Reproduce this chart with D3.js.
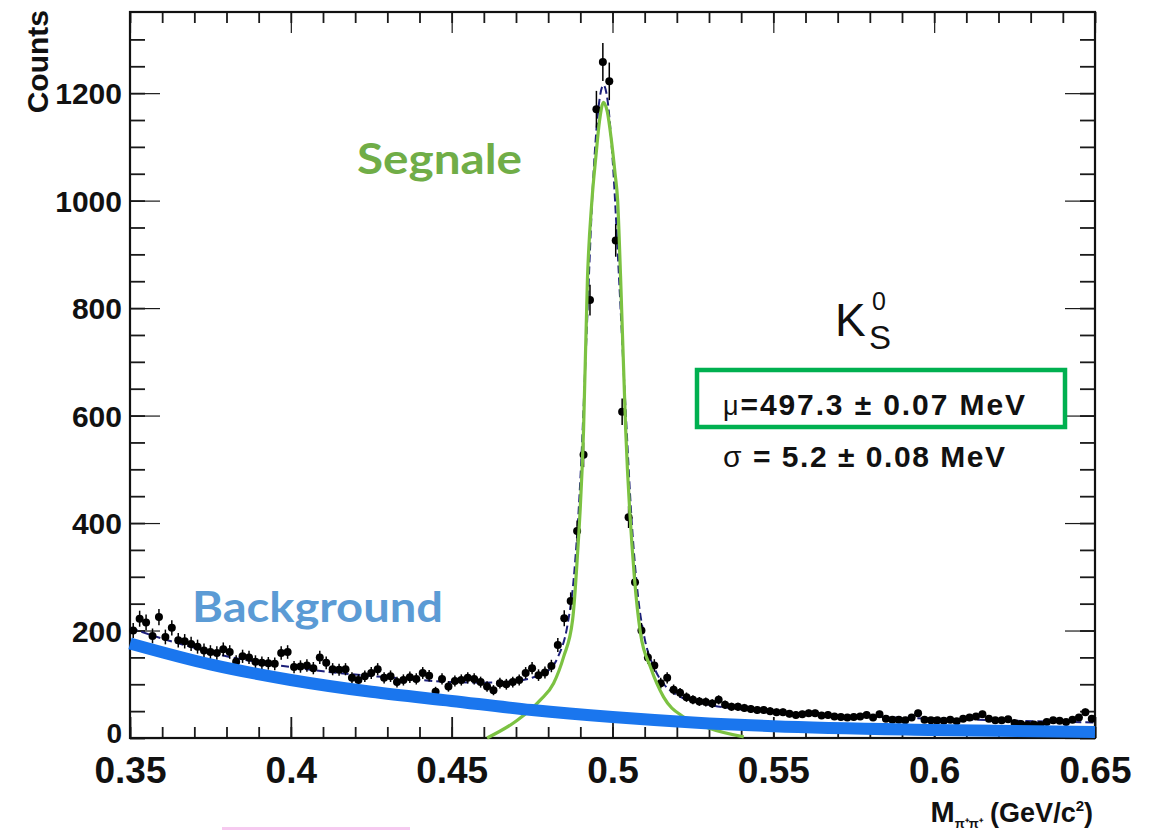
<!DOCTYPE html>
<html><head><meta charset="utf-8">
<script src="https://cdn.jsdelivr.net/npm/d3@7"></script>
<style>body{margin:0;background:#fff}svg{display:block}</style>
</head><body>
<svg id="c" width="1150" height="833"></svg>
<script>
// ---------------- data ----------------
const binStart = 0.35, binWidth = 0.002;
const counts = [
  200, 222, 215, 190, 225, 188, 205, 182, 180, 175,
  170, 163, 160, 158, 165, 160, 142, 152, 150, 142,
  140, 139, 138, 158, 160, 132, 133, 135, 130, 150,
  140, 128, 127, 128, 112, 108, 115, 121, 128, 112,
  115, 104, 108, 113, 110, 121, 116, 86, 110, 96,
  106, 108, 112, 110, 104, 96, 89, 102, 100, 104,
  108, 121, 130, 117, 122, 134, 173, 223, 255, 385,
  527, 815, 1170, 1258, 1222, 926, 607, 411, 290, 200,
  150, 135, 102, 112, 90, 84, 76, 71, 68, 67,
  64, 71, 62, 58, 58, 56, 54, 52, 52, 50,
  48, 48, 45, 43, 44, 46, 46, 42, 43, 40,
  39, 38, 39, 40, 43, 38, 44, 36, 34, 34,
  33, 38, 46, 34, 33, 33, 32, 34, 31, 36,
  38, 40, 44, 36, 33, 33, 35, 28, 26, 24,
  25, 24, 30, 33, 32, 30, 34, 38, 48, 36
];
// total fit (dashed navy)
const fitX = [0.35,0.36,0.37,0.38,0.39,0.40,0.41,0.42,0.43,0.44,0.45,0.46,0.47,0.475,0.48,0.483,0.486,0.488,0.490,0.492,0.494,0.496,0.4972,0.4985,0.500,0.502,0.504,0.506,0.508,0.510,0.513,0.516,0.52,0.53,0.54,0.55,0.57,0.60,0.625,0.65];
const fitY = [205,185,168,152,141,132,124,118,113,108,104,103,106,112,125,150,210,300,480,760,1040,1190,1215,1185,1080,860,620,400,260,185,130,100,80,62,53,47,42,36,32,29];
// background curve (blue)
const bkgX = [0.35,0.375,0.40,0.425,0.45,0.475,0.50,0.525,0.55,0.60,0.65];
const bkgY = [176,137,108,86,69,52,39,29,22,15,11];
// signal curve (green)
const sigX = [0.461,0.4704,0.4776,0.4817,0.4848,0.4876,0.4890,0.4910,0.4922,0.4936,0.4948,0.4960,0.4972,0.4984,0.4996,0.5008,0.5016,0.5025,0.5041,0.5068,0.5087,0.5118,0.5159,0.5221,0.5296,0.5408];
const sigY = [0,33,71,102,151,220,330,573,852,1000,1080,1150,1183,1165,1115,1050,1000,860,573,300,195,132,76,39,19,2];
// axes
const xMajor = [0.35,0.40,0.45,0.50,0.55,0.60,0.65];
const xMajorLabels = ["0.35","0.4","0.45","0.5","0.55","0.6","0.65"];
const xMinor = d3.range(0,31).map(i => 0.35 + i*0.01);
const yMajor = [0,200,400,600,800,1000,1200];
const yMajorLabels = ["0","200","400","600","800","1000","1200"];
const yMinor = d3.range(0,27).map(i => i*50);

// ---------------- layout ----------------
const L = 130, R = 1095, T = 12, B = 738;
const svg = d3.select("#c");
const x = d3.scaleLinear().domain([0.35,0.65]).range([L,R]);
const y = d3.scaleLinear().domain([0,1351]).range([B,T]);

const axisFont = "'Liberation Sans', Arial, Helvetica, sans-serif";
const tickCol = "#1a1a1a";

function styleTicks(g, w){
  g.select(".domain").remove();
  g.selectAll(".tick line").attr("stroke", tickCol).attr("stroke-width", w);
}
// bottom ticks
svg.append("g").attr("transform",`translate(0,${B})`)
  .call(d3.axisTop(x).tickValues(xMinor).tickSize(11).tickFormat("")).call(g=>styleTicks(g,1.8));
svg.append("g").attr("transform",`translate(0,${B})`)
  .call(d3.axisTop(x).tickValues(xMajor).tickSize(21).tickFormat("")).call(g=>styleTicks(g,1.8));
// top ticks
svg.append("g").attr("transform",`translate(0,${T})`)
  .call(d3.axisBottom(x).tickValues(xMinor).tickSize(11).tickFormat("")).call(g=>styleTicks(g,1.8));
svg.append("g").attr("transform",`translate(0,${T})`)
  .call(d3.axisBottom(x).tickValues(xMajor).tickSize(21).tickFormat("")).call(g=>styleTicks(g,1.2));
// left ticks
svg.append("g").attr("transform",`translate(${L},0)`)
  .call(d3.axisRight(y).tickValues(yMinor).tickSize(15).tickFormat("")).call(g=>styleTicks(g,1.8));
svg.append("g").attr("transform",`translate(${L},0)`)
  .call(d3.axisRight(y).tickValues(yMajor).tickSize(30).tickFormat("")).call(g=>styleTicks(g,1.2));
// right ticks
svg.append("g").attr("transform",`translate(${R},0)`)
  .call(d3.axisLeft(y).tickValues(yMinor).tickSize(15).tickFormat("")).call(g=>styleTicks(g,1.8));
svg.append("g").attr("transform",`translate(${R},0)`)
  .call(d3.axisLeft(y).tickValues(yMajor).tickSize(30).tickFormat("")).call(g=>styleTicks(g,1.2));

// x labels
const xl = svg.append("g").attr("transform",`translate(0,${B})`)
  .call(d3.axisBottom(x).tickValues(xMajor).tickSize(0).tickFormat((d,i)=>xMajorLabels[i]));
xl.select(".domain").remove();
xl.selectAll("text").attr("y",45).attr("dy",null)
  .attr("font-family",axisFont).attr("font-weight","bold").attr("font-size",37).attr("fill","#111");
// y labels
const yl = svg.append("g").attr("transform",`translate(${L},0)`)
  .call(d3.axisLeft(y).tickValues(yMajor).tickSize(0).tickPadding(8).tickFormat((d,i)=>yMajorLabels[i]));
yl.select(".domain").remove();
yl.selectAll("text").attr("dy",null).attr("y",10.5)
  .attr("font-family",axisFont).attr("font-weight","bold").attr("font-size",30).attr("fill","#111");
yl.selectAll(".tick").filter(d=>d===0).select("text").attr("y",4).attr("font-size",28);

// frame
svg.append("rect").attr("x",L).attr("y",T).attr("width",R-L).attr("height",B-T)
  .attr("fill","none").attr("stroke","#111").attr("stroke-width",2.2);

// axis titles
svg.append("text").attr("transform","translate(48,10) rotate(-90)")
  .attr("text-anchor","end").attr("font-family",axisFont).attr("font-weight","bold")
  .attr("font-size",30).attr("fill","#111").text("Counts");
const xt = svg.append("text").attr("x",1093).attr("y",822).attr("text-anchor","end")
  .attr("font-family",axisFont).attr("font-weight","bold").attr("font-size",27).attr("fill","#111");
xt.append("tspan").attr("font-size",29).text("M");
xt.append("tspan").attr("font-size",13).attr("dy",6).text("π⁺π⁺");
xt.append("tspan").attr("dy",-6).text(" (GeV/c");
xt.append("tspan").attr("font-size",15).attr("dy",-11).text("2");
xt.append("tspan").attr("dy",11).text(")");

// ---------------- marks ----------------
const bins = counts.map((c,i)=>({x: binStart + (i+0.5)*binWidth, c}));
const line = d3.line().x(d=>x(d[0])).y(d=>y(d[1])).curve(d3.curveMonotoneX);

// total fit dashed navy
svg.append("path").attr("d", line(fitX.map((v,i)=>[v,fitY[i]])))
  .attr("fill","none").attr("stroke","#1c1f7a").attr("stroke-width",2)
  .attr("stroke-dasharray","8,4");

// data
const dg = svg.append("g");
dg.selectAll("line.ev").data(bins).join("line").attr("class","ev")
  .attr("x1",d=>x(d.x)).attr("x2",d=>x(d.x))
  .attr("y1",d=>y(d.c+Math.sqrt(d.c))).attr("y2",d=>y(d.c-Math.sqrt(d.c)))
  .attr("stroke","#000").attr("stroke-width",1.5);
dg.selectAll("line.eh").data(bins).join("line").attr("class","eh")
  .attr("x1",d=>x(d.x-binWidth/2)).attr("x2",d=>x(d.x+binWidth/2))
  .attr("y1",d=>y(d.c)).attr("y2",d=>y(d.c))
  .attr("stroke","#000").attr("stroke-width",2);
dg.selectAll("circle").data(bins).join("circle")
  .attr("cx",d=>x(d.x)).attr("cy",d=>y(d.c)).attr("r",4).attr("fill","#000");

// signal green
svg.append("path").attr("d", line(sigX.map((v,i)=>[v,sigY[i]])))
  .attr("fill","none").attr("stroke","#7cc242").attr("stroke-width",3.2)
  .attr("stroke-linejoin","round");

// background blue
svg.append("path").attr("d", line(bkgX.map((v,i)=>[v,bkgY[i]])))
  .attr("fill","none").attr("stroke","#1a76ee").attr("stroke-width",12);

// ---------------- annotations ----------------
const annFont = "Lato, 'Open Sans', sans-serif";
svg.append("text").attr("x",357).attr("y",174).attr("font-family",annFont).attr("font-weight","bold")
  .attr("font-size",42).attr("fill","#70ad47").attr("textLength",165).attr("lengthAdjust","spacingAndGlyphs")
  .text("Segnale");
svg.append("text").attr("x",192).attr("y",622).attr("font-family",annFont).attr("font-weight","bold")
  .attr("font-size",42).attr("fill","#5b9bd5").attr("textLength",251).attr("lengthAdjust","spacingAndGlyphs")
  .text("Background");

// K0S
svg.append("text").attr("x",835).attr("y",336).attr("font-family",axisFont).attr("font-size",46)
  .attr("fill","#111").text("K");
svg.append("text").attr("x",872).attr("y",310).attr("font-family",axisFont).attr("font-size",25)
  .attr("fill","#111").text("0");
svg.append("text").attr("x",869).attr("y",349).attr("font-family",axisFont).attr("font-size",33)
  .attr("fill","#111").text("S");

// box
svg.append("rect").attr("x",697).attr("y",370).attr("width",368).attr("height",57)
  .attr("fill","none").attr("stroke","#00b050").attr("stroke-width",4.5);
const mu = svg.append("text").attr("x",723).attr("y",415).attr("font-family",axisFont)
  .attr("font-weight","bold").attr("font-size",30).attr("fill","#111")
  .attr("textLength",302).attr("lengthAdjust","spacing");
mu.append("tspan").attr("font-weight","normal").attr("font-size",27).text("μ");
mu.append("tspan").text("=497.3 ± 0.07 MeV");
const sg = svg.append("text").attr("x",723).attr("y",467).attr("font-family",axisFont)
  .attr("font-weight","bold").attr("font-size",30).attr("fill","#111")
  .attr("textLength",282).attr("lengthAdjust","spacing");
sg.append("tspan").attr("font-weight","normal").text("σ");
sg.append("tspan").text(" = 5.2 ± 0.08 MeV");

// stray pink mark at bottom
svg.append("rect").attr("x",222).attr("y",827).attr("width",188).attr("height",3).attr("fill","#f6c9ef");
</script>
</body></html>
